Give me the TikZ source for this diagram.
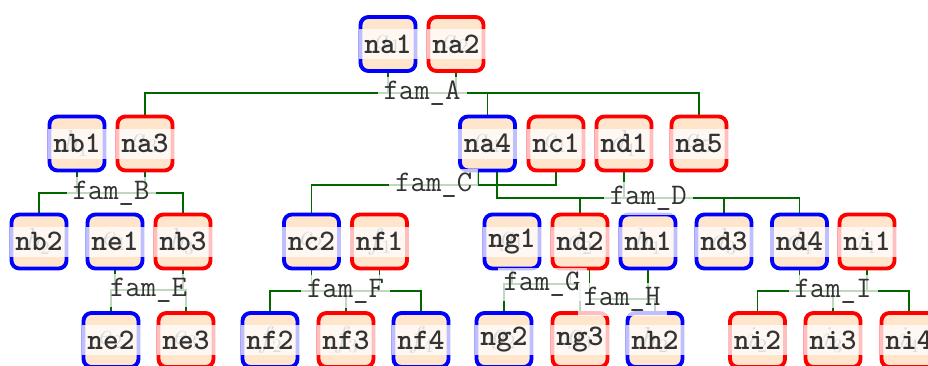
\documentclass[tikz,border=0pt]{standalone}
\usepackage{xcolor}
\usetikzlibrary{backgrounds}

\tikzset{
  person/.style={rounded corners=4.5pt, line width=2.2pt, fill=orange!20,
    minimum width=1.1cm, minimum height=1.08cm, inner sep=0pt,
    text=black!55, font=\fontsize{16}{18}\selectfont,
    label={[band]center:#1}},
  boy/.style={person=#1, draw=blue},
  girl/.style={person=#1, draw=red},
  band/.style={fill=white, fill opacity=0.75, text opacity=1, text=black!80,
    minimum width=1.18cm, minimum height=0.6cm, inner sep=0pt,
    font=\ttfamily\bfseries\fontsize{17}{20}\selectfont},
  fam/.style={fill=white, fill opacity=0.75, text opacity=1, text=black!80,
    minimum width=1.78cm, minimum height=0.66cm, inner sep=0pt,
    font=\ttfamily\fontsize{17}{20}\selectfont},
  famline/.style={draw=green!40!black, line width=1.1pt},
}

\begin{document}
\begin{tikzpicture}
  \useasboundingbox (0,0) rectangle (18.56,-7.30);
  % generation 1
  \node[boy=na1] (na1) at (7.76,-0.88) {$a_1$};
  \node[girl=na2] (na2) at (9.12,-0.88) {$a_2$};
  % generation 2
  \node[boy=nb1] (nb1) at (1.54,-2.87) {$b_1$};
  \node[girl=na3] (na3) at (2.90,-2.87) {$a_3$};
  \node[boy=na4] (na4) at (9.75,-2.87) {$a_4$};
  \node[girl=nc1] (nc1) at (11.12,-2.87) {$c_1$};
  \node[girl=nd1] (nd1) at (12.48,-2.87) {$d_1$};
  \node[girl=na5] (na5) at (13.98,-2.87) {$a_5$};
  % generation 3
  \node[boy=nb2] (nb2) at (0.78,-4.83) {$b_2$};
  \node[boy=ne1] (ne1) at (2.30,-4.83) {$e_1$};
  \node[girl=nb3] (nb3) at (3.66,-4.83) {$b_3$};
  \node[boy=nc2] (nc2) at (6.23,-4.83) {$c_2$};
  \node[girl=nf1] (nf1) at (7.59,-4.83) {$f_1$};
  \node[boy=ng1] (ng1) at (10.24,-4.83) {$g_1$};
  \node[girl=nd2] (nd2) at (11.60,-4.83) {$d_2$};
  \node[boy=nh1] (nh1) at (12.96,-4.83) {$h_1$};
  \node[boy=nd3] (nd3) at (14.48,-4.83) {$d_3$};
  \node[boy=nd4] (nd4) at (15.99,-4.83) {$d_4$};
  \node[girl=ni1] (ni1) at (17.34,-4.83) {$i_1$};
  % generation 4
  \node[boy=ne2] (ne2) at (2.22,-6.80) {$e_2$};
  \node[girl=ne3] (ne3) at (3.72,-6.80) {$e_3$};
  \node[boy=nf2] (nf2) at (5.40,-6.80) {$f_2$};
  \node[girl=nf3] (nf3) at (6.92,-6.80) {$f_3$};
  \node[boy=nf4] (nf4) at (8.42,-6.80) {$f_4$};
  \node[boy=ng2] (ng2) at (10.08,-6.80) {$g_2$};
  \node[girl=ng3] (ng3) at (11.60,-6.80) {$g_3$};
  \node[boy=nh2] (nh2) at (13.10,-6.80) {$h_2$};
  \node[girl=ni2] (ni2) at (15.15,-6.80) {$i_2$};
  \node[girl=ni3] (ni3) at (16.66,-6.80) {$i_3$};
  \node[girl=ni4] (ni4) at (18.18,-6.80) {$i_4$};

  % families
  \node[fam] (famA) at (8.44,-1.86) {fam\_A};
  \node[fam] (famB) at (2.22,-3.86) {fam\_B};
  \node[fam] (famC) at (8.675,-3.70) {fam\_C};
  \node[fam] (famD) at (12.965,-3.96) {fam\_D};
  \node[fam] (famE) at (2.97,-5.80) {fam\_E};
  \node[fam] (famF) at (6.91,-5.82) {fam\_F};
  \node[fam] (famG) at (10.84,-5.68) {fam\_G};
  \node[fam] (famH) at (12.44,-5.98) {fam\_H};
  \node[fam] (famI) at (16.66,-5.82) {fam\_I};

  % persons in two families
  \coordinate (na4w) at ([xshift=-0.19cm]na4.south);
  \coordinate (na4e) at ([xshift=0.19cm]na4.south);
  \coordinate (nd2w) at ([xshift=-0.19cm]nd2.south);
  \coordinate (nd2e) at ([xshift=0.19cm]nd2.south);

  \begin{scope}[on background layer]
    % fam_A
    \draw[famline] (na3.north) |- (famA.center) -| (na5.north);
    \draw[famline] (na4.north) -- (na4 |- famA);
    \draw[famline] (na1.south) -- (na1 |- famA);
    \draw[famline] (na2.south) -- (na2 |- famA);
    % fam_B
    \draw[famline] (nb2.north) |- (famB.center) -| (nb3.north);
    \draw[famline] (nb1.south) -- (nb1 |- famB);
    \draw[famline] (na3.south) -- (na3 |- famB);
    % fam_C
    \draw[famline] (nc2.north) |- (famC.center) -| (nc1.south);
    \draw[famline] (na4w) -- (na4w |- famC);
    % fam_D
    \draw[famline] (na4e) |- (famD.center) -| (nd4.north);
    \draw[famline] (nd1.south) -- (nd1 |- famD);
    \draw[famline] (nd2.north) -- (nd2 |- famD);
    \draw[famline] (nd3.north) -- (nd3 |- famD);
    % fam_E
    \draw[famline] (ne2.north) |- (famE.center) -| (ne3.north);
    \draw[famline] (ne1.south) -- (ne1 |- famE);
    \draw[famline] (nb3.south) -- (nb3 |- famE);
    % fam_F
    \draw[famline] (nf2.north) |- (famF.center) -| (nf4.north);
    \draw[famline] (nf3.north) -- (nf3 |- famF);
    \draw[famline] (nc2.south) -- (nc2 |- famF);
    \draw[famline] (nf1.south) -- (nf1 |- famF);
    % fam_G
    \draw[famline] (ng2.north) |- (famG.center) -| (ng3.north);
    \draw[famline] (ng1.south) -- (ng1 |- famG);
    \draw[famline] (nd2w) -- (nd2w |- famG);
    % fam_H
    \draw[famline] (nd2e) |- (famH.center) -| (nh2.north);
    \draw[famline] (nh1.south) -- (nh1 |- famH);
    % fam_I
    \draw[famline] (ni2.north) |- (famI.center) -| (ni4.north);
    \draw[famline] (ni3.north) -- (ni3 |- famI);
    \draw[famline] (nd4.south) -- (nd4 |- famI);
    \draw[famline] (ni1.south) -- (ni1 |- famI);
  \end{scope}
\end{tikzpicture}
\end{document}
